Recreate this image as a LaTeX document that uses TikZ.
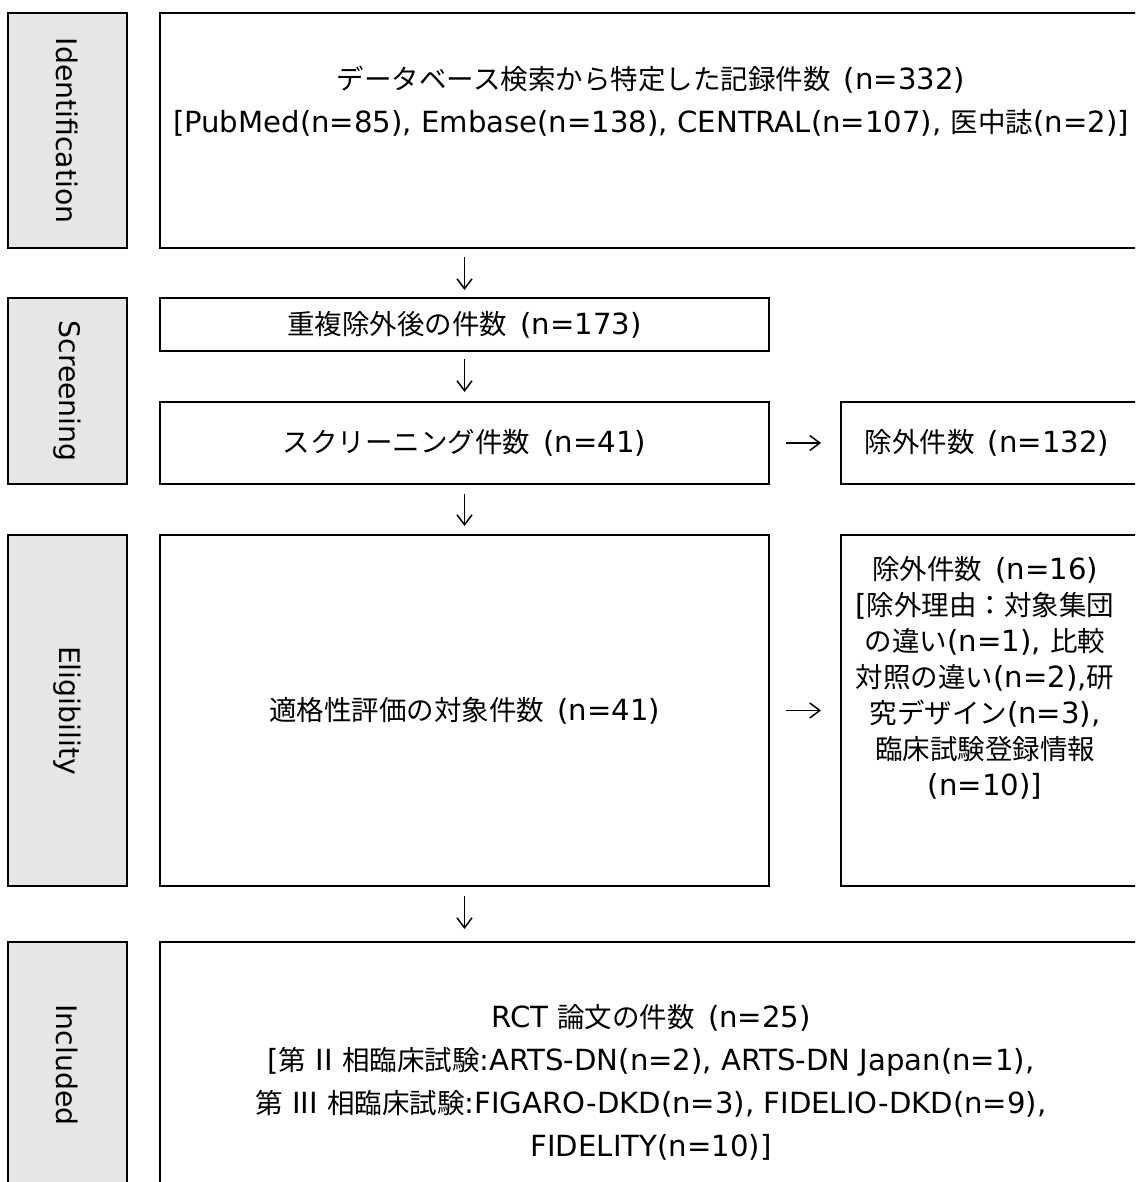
\documentclass[tikz,border=0pt]{standalone}
\usepackage{fontspec}
\setmainfont{DejaVu Sans}[Scale=1.06]
\newfontfamily\jp{Noto Sans CJK JP}
\usetikzlibrary{arrows.meta}
\definecolor{labgray}{RGB}{230,230,230}
\newcommand\J[1]{{\jp #1}}
\newcommand\G{\hspace{0.45em}}
\newcommand\mainsize{\fontsize{27.5}{43}\selectfont}
\newcommand\exsize{\fontsize{27.5}{36}\selectfont}
\begin{document}
\begin{tikzpicture}[x=1pt,y=-1pt,
  lab/.style={draw=black, line width=2pt, fill=labgray, inner sep=0pt, rotate=-90, font=\fontsize{26.7}{33}\selectfont},
  box/.style={draw=black, line width=2pt, inner sep=0pt, align=center, font=\mainsize},
  txt/.style={inner sep=0pt, align=center, font=\mainsize},
  arr/.style={line width=1.5pt, -{Straight Barb[length=10pt,width=15pt,line width=1.5pt]}}
]
\useasboundingbox (0,0) rectangle (1135,1182);
\clip (0,0) rectangle (1135,1182);
\fill[white] (0,0) rectangle (1135,1182);

% stage labels
\node[lab, minimum width=235pt, minimum height=119pt] (l1) at (67.5,130.5) {Identification};
\node[lab, minimum width=186pt, minimum height=119pt] (l2) at (67.5,391) {Screening};
\node[lab, minimum width=351pt, minimum height=119pt] (l3) at (67.5,710.5) {Eligibility};
\node[lab, minimum width=246pt, minimum height=119pt] (l4) at (67.5,1065) {Included};

% boxes
\node[box, minimum width=985pt, minimum height=235pt] (id) at (652.5,130.5) {};
\node[txt] (idt) at (651,101.5) {\J{データベース検索から特定した記録件数}\G(n=332)\\{[}PubMed(n=85), Embase(n=138), CENTRAL(n=107), \J{医中誌}(n=2)]};

\node[box, minimum width=609pt, minimum height=53pt] (dup) at (464.5,324.5) {\J{重複除外後の件数}\G(n=173)};
\node[box, minimum width=609pt, minimum height=82pt] (scr) at (464.5,443) {\J{スクリーニング件数}\G(n=41)};
\node[box, minimum width=304pt, minimum height=82pt] (ex1) at (993,443) {};
\node[txt] (ex1t) at (987,443) {\J{除外件数}\G(n=132)};

\node[box, minimum width=609pt, minimum height=351pt] (elig) at (464.5,710.5) {\J{適格性評価の対象件数}\G(n=41)};
\node[box, minimum width=304pt, minimum height=351pt] (ex2) at (993,710.5) {};
\node[txt, font=\exsize] (ex2t) at (985,678) {\J{除外件数}\G(n=16)\\{[}\J{除外理由：対象集団}\\\J{の違い}(n=1), \J{比較}\\\J{対照の違い}(n=2),\J{研}\\\J{究デザイン}(n=3),\\\J{臨床試験登録情報}\\(n=10)]};

\node[box, minimum width=985pt, minimum height=246pt] (incl) at (652.5,1065) {};
\node[txt] (inclt) at (651,1082) {RCT \J{論文の件数}\G(n=25)\\{[}\J{第} II \J{相臨床試験}:ARTS-DN(n=2), ARTS-DN Japan(n=1),\\\J{第} III \J{相臨床試験}:FIGARO-DKD(n=3), FIDELIO-DKD(n=9),\\FIDELITY(n=10)]};

% connectors
\draw[arr, shorten <=8pt, shorten >=7pt] (id.south -| dup.north) -- (dup.north);
\draw[arr, shorten <=7pt, shorten >=9pt] (dup.south) -- (scr.north);
\draw[arr, shorten <=9pt, shorten >=8pt] (scr.south) -- (elig.north);
\draw[arr, shorten <=9pt, shorten >=12pt] (elig.south) -- (elig.south |- incl.north);
\draw[arr, shorten <=16pt, shorten >=19pt] (scr.east) -- (ex1.west);
\draw[arr, shorten <=16pt, shorten >=19pt] (elig.east) -- (ex2.west);
\end{tikzpicture}
\end{document}
